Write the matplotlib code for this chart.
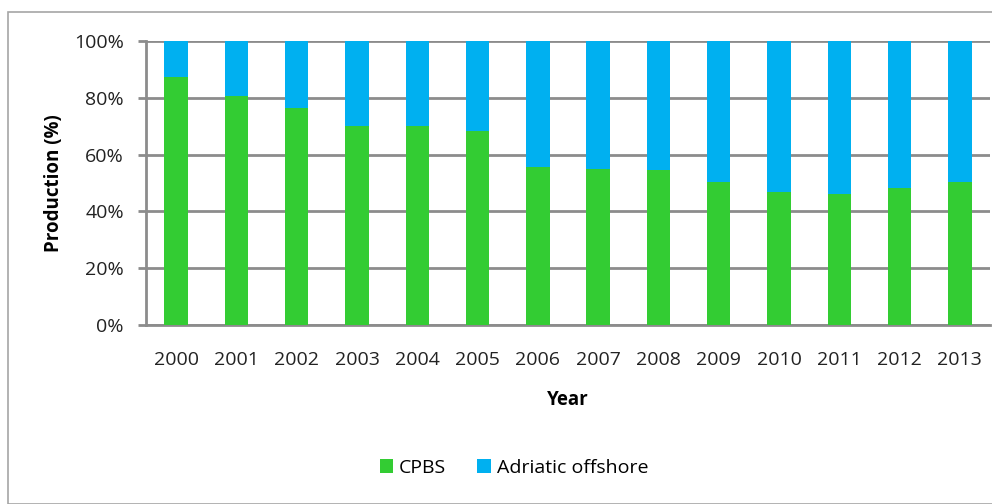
import matplotlib
matplotlib.use("Agg")
import matplotlib.pyplot as plt
from matplotlib.patches import Rectangle
from matplotlib.ticker import PercentFormatter

years = ["2000", "2001", "2002", "2003", "2004", "2005", "2006",
         "2007", "2008", "2009", "2010", "2011", "2012", "2013"]
cpbs = [87.5, 80.8, 76.4, 70.1, 70.1, 68.3, 55.5,
        54.9, 54.6, 50.4, 46.7, 46.3, 48.3, 50.4]
adriatic = [100 - v for v in cpbs]

green = "#33CC33"
blue = "#00B0F0"
grid_c = "#8C8C8C"

plt.rcParams['font.family'] = ['Open Sans', 'DejaVu Sans']

fig = plt.figure(figsize=(9.92, 5.04), dpi=100)
fig.patches.append(Rectangle((8/992, 0), 1.2, 1 - 12/504, transform=fig.transFigure,
                             fill=False, edgecolor="#A6A6A6", linewidth=1.2, zorder=0))

ax = fig.add_axes([146/992, 1 - 325/504, (990 - 146)/992, (325 - 41)/504])
x = list(range(len(years)))
w = 0.39
ax.bar(x, cpbs, width=w, color=green, label="CPBS", zorder=3)
ax.bar(x, adriatic, bottom=cpbs, width=w, color=blue, label="Adriatic offshore", zorder=3)

ax.set_xlim(-0.5, len(years) - 0.5)
ax.set_ylim(0, 100)
ax.set_yticks([0, 20, 40, 60, 80, 100])
ax.yaxis.set_major_formatter(PercentFormatter(decimals=0))
ax.set_xticks(x)
ax.set_xticklabels(years)
ax.yaxis.grid(True, color=grid_c, linewidth=2, zorder=1)
ax.set_axisbelow(True)
for s in ["top", "right"]:
    ax.spines[s].set_visible(False)
ax.spines["bottom"].set_color(grid_c)
ax.spines["bottom"].set_linewidth(2)
ax.spines["left"].set_color(grid_c)
ax.spines["left"].set_linewidth(2)
ax.tick_params(axis="x", length=0, pad=19, labelsize=14, colors="#222222")
ax.tick_params(axis="y", length=6, width=2, color=grid_c, pad=10, labelsize=14,
               colors="#222222", direction="out")

ax.set_ylabel("Production (%)", fontsize=13.5, fontweight="bold", labelpad=7)
ax.set_xlabel("Year", fontsize=13.5, fontweight="bold", labelpad=15)

fig.legend(loc="center", bbox_to_anchor=(514/992, 1 - 468/504), ncol=2, frameon=False,
           fontsize=14, handlelength=0.7, handleheight=0.7, handletextpad=0.3,
           columnspacing=1.6)

fig.savefig("out.png", dpi=100)
